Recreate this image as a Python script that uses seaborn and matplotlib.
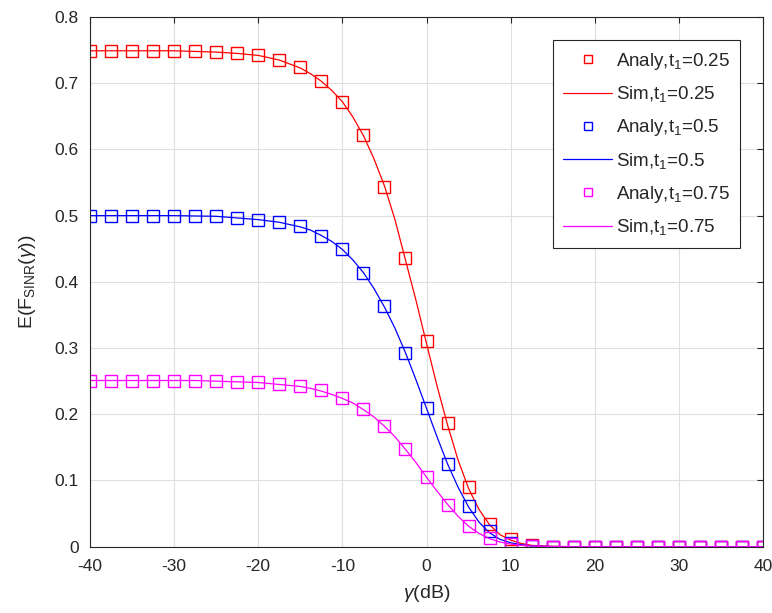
import numpy as np
import pandas as pd
import matplotlib
matplotlib.use("Agg")
import matplotlib.pyplot as plt
import seaborn as sns

sns.set_style("white")
plt.rcParams['font.family'] = ['Liberation Sans', 'DejaVu Sans']
plt.rcParams['mathtext.fontset'] = 'custom'
plt.rcParams['mathtext.rm'] = 'Liberation Sans'
plt.rcParams['mathtext.it'] = 'Liberation Sans:italic'
plt.rcParams['axes.unicode_minus'] = False

# analytic points, every 2.5 dB
gamma_ana = [-40, -37.5, -35, -32.5, -30, -27.5, -25, -22.5, -20, -17.5, -15, -12.5,
             -10, -7.5, -5, -2.5, 0, 2.5, 5, 7.5, 10, 12.5, 15, 17.5, 20, 22.5, 25,
             27.5, 30, 32.5, 35, 37.5, 40]
ana_025 = [0.749, 0.749, 0.749, 0.749, 0.749, 0.748, 0.747, 0.745, 0.742, 0.735, 0.724, 0.704,
           0.672, 0.622, 0.543, 0.436, 0.311, 0.187, 0.090, 0.034, 0.011, 0.002, 0.0, 0.0, 0.0, 0.0, 0.0,
           0.0, 0.0, 0.0, 0.0, 0.0, 0.0]
ana_05 = [0.500, 0.500, 0.500, 0.500, 0.500, 0.4995, 0.499, 0.4965, 0.494, 0.491, 0.484, 0.470,
          0.449, 0.414, 0.363, 0.293, 0.209, 0.125, 0.062, 0.024, 0.006, 0.001, 0.0, 0.0, 0.0, 0.0, 0.0,
          0.0, 0.0, 0.0, 0.0, 0.0, 0.0]
ana_075 = [0.251, 0.251, 0.251, 0.251, 0.251, 0.251, 0.250, 0.249, 0.248, 0.246, 0.242, 0.236,
           0.224, 0.208, 0.182, 0.147, 0.106, 0.063, 0.031, 0.013, 0.004, 0.001, 0.0, 0.0, 0.0, 0.0, 0.0,
           0.0, 0.0, 0.0, 0.0, 0.0, 0.0]

# simulation curve, denser in the transition
gamma_sim = [-40, -37.5, -35, -32.5, -30, -27.5, -25, -22.5, -20, -17.5, -15, -13.75, -12.5,
             -11.25, -10, -8.75, -7.5, -6.25, -5, -3.75, -2.5, -1.25, 0, 1.25, 2.5, 3.75, 5,
             6.25, 7.5, 8.75, 10, 11.25, 12.5, 15, 17.5, 20, 25, 30, 35, 40]
sim_025 = [0.749, 0.749, 0.749, 0.749, 0.749, 0.748, 0.747, 0.745, 0.742, 0.735, 0.723, 0.714, 0.703,
           0.689, 0.672, 0.649, 0.621, 0.586, 0.545, 0.494, 0.433, 0.372, 0.307, 0.243, 0.184, 0.131, 0.088,
           0.056, 0.033, 0.018, 0.010, 0.005, 0.002, 0.0005, 0.0, 0.0, 0.0, 0.0, 0.0, 0.0]
sim_05 = [0.500, 0.500, 0.500, 0.500, 0.500, 0.4995, 0.499, 0.4965, 0.494, 0.490, 0.483, 0.478, 0.470,
          0.461, 0.449, 0.433, 0.414, 0.390, 0.362, 0.330, 0.293, 0.252, 0.209, 0.166, 0.125, 0.090, 0.060,
          0.037, 0.021, 0.011, 0.006, 0.003, 0.001, 0.0003, 0.0, 0.0, 0.0, 0.0, 0.0, 0.0]
sim_075 = [0.251, 0.251, 0.251, 0.251, 0.251, 0.251, 0.250, 0.249, 0.248, 0.245, 0.242, 0.239, 0.235,
           0.230, 0.224, 0.217, 0.207, 0.196, 0.182, 0.166, 0.147, 0.127, 0.105, 0.084, 0.064, 0.046, 0.031,
           0.020, 0.012, 0.007, 0.004, 0.002, 0.001, 0.0003, 0.0, 0.0, 0.0, 0.0, 0.0, 0.0]

t_labels = ["0.25", "0.5", "0.75"]
colors = ["#FF0000", "#0000FF", "#FF00FF"]

fig = plt.figure(figsize=(7.72, 6.13), dpi=100)
ax = fig.add_axes([90/772, 1-546.7/613, 673/772, 529.7/613])

for t, c, ya, ys in zip(t_labels, colors, [ana_025, ana_05, ana_075], [sim_025, sim_05, sim_075]):
    sns.lineplot(x=gamma_ana, y=ya, ax=ax, marker='s', linestyle='none', markersize=8,
                 markerfacecolor='none', markeredgecolor=c, markeredgewidth=1.0, color=c,
                 label=r'Analy,t$_1$=' + t)
    sns.lineplot(x=gamma_sim, y=ys, ax=ax, color=c, linewidth=0.9,
                 label=r'Sim,t$_1$=' + t)

ax.set_xlim(-40, 40)
ax.set_ylim(0, 0.8)
ax.set_xticks(np.arange(-40, 41, 10))
ax.set_yticks(np.arange(0, 0.81, 0.1))
ax.set_yticklabels(["0", "0.1", "0.2", "0.3", "0.4", "0.5", "0.6", "0.7", "0.8"])
ax.grid(True, color="#DFDFDF", linewidth=0.8)
ax.set_axisbelow(True)
ax.tick_params(direction='in', length=4, labelsize=12.5, top=True, right=True, colors="#262626")
ax.tick_params(axis='x', pad=9)
ax.tick_params(axis='y', pad=8)
for s in ax.spines.values():
    s.set_color("#262626")
    s.set_linewidth(0.8)
    s.set_visible(True)

ax.set_xlabel(r'$\gamma$(dB)', fontsize=14, labelpad=6)
ax.set_ylabel(r'E(F$_{\mathrm{SINR}}$($\gamma$))', fontsize=14, labelpad=12)

leg = ax.legend(loc='upper right', bbox_to_anchor=(0.966, 0.956), borderaxespad=0, fontsize=13.5,
                frameon=True, fancybox=False, framealpha=1, edgecolor="#262626",
                handlelength=2.6, labelspacing=0.68, borderpad=0.55, handletextpad=0.2,
                markerscale=0.8)
leg.get_frame().set_linewidth(0.8)

fig.savefig("out.png", dpi=100)
